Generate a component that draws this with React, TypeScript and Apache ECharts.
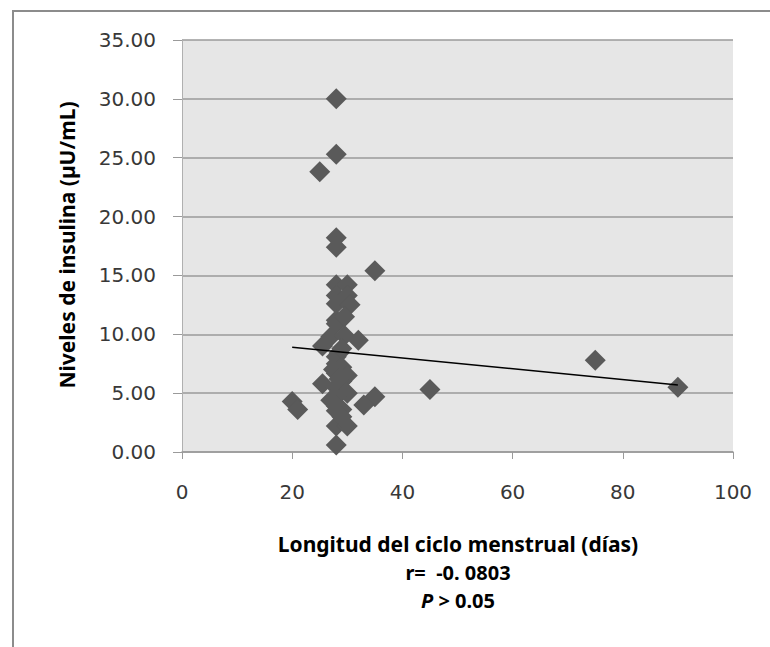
import React, { useEffect, useRef } from "react";
import * as echarts from "echarts";

// Menstrual cycle length (days)
const cycleDays: number[] = [
  28, 28, 25, 28, 28, 35, 28, 30, 28, 30, 28, 30.5, 28, 28,
  27, 29.5, 32, 25.5, 28.5, 28, 28, 29, 28, 30, 25.5, 28, 29,
  30, 28, 35, 33, 28, 29, 28, 20, 21, 28, 30, 28, 45, 75, 90,
  29, 27.5, 28.5, 29.5, 27, 29,
];
// Insulin levels (µU/mL)
const insulin: number[] = [
  30.0, 25.3, 23.8, 18.2, 17.4, 15.4, 14.2, 14.2, 13.3, 13.3, 12.6, 12.5, 11.2, 10.9,
  9.8, 9.9, 9.5, 9.0, 8.4, 8.1, 7.5, 7.2, 6.7, 6.5, 5.8, 5.5, 6.0,
  5.0, 4.7, 4.7, 4.0, 3.9, 3.6, 3.5, 4.3, 3.6, 2.2, 2.2, 0.6, 5.3, 7.8, 5.5,
  8.8, 7.0, 6.2, 11.5, 4.4, 3.0,
];
// Linear trend line endpoints
const trendX: number[] = [20, 90];
const trendY: number[] = [8.9, 5.7];

const yTicks = { min: 0, max: 35, interval: 5 };
const xTicks = { min: 0, max: 100, interval: 20 };

const xTitle = "Longitud del ciclo menstrual (días)";
const yTitle = "Niveles de insulina (µU/mL)";
const rText = "r=  -0. 0803";
const pText = "{i|P} > 0.05";

export default function App() {
  const ref = useRef<HTMLDivElement>(null);
  useEffect(() => {
    if (!ref.current) return;
    const chart = echarts.init(ref.current, undefined, { renderer: "svg" });
    const points = cycleDays.map((x, i) => [x, insulin[i]]);
    const trend = trendX.map((x, i) => [x, trendY[i]]);
    const tickFont = { fontFamily: "DejaVu Sans", fontSize: 20, color: "#383838" };
    const titleFont = "Noto Sans";
    chart.setOption({
      animation: false,
      backgroundColor: "#ffffff",
      grid: {
        left: 182,
        top: 40,
        right: 37,
        bottom: 195,
        show: true,
        backgroundColor: "#e6e6e6",
        borderWidth: 0,
      },
      xAxis: {
        type: "value",
        min: xTicks.min,
        max: xTicks.max,
        interval: xTicks.interval,
        axisLine: { show: true, onZero: false, lineStyle: { color: "#9a9a9a", width: 1.5 } },
        axisTick: { show: true, length: 7, lineStyle: { color: "#9a9a9a", width: 1 } },
        axisLabel: { ...tickFont, margin: 30 },
        splitLine: { show: false },
      },
      yAxis: {
        type: "value",
        min: yTicks.min,
        max: yTicks.max,
        interval: yTicks.interval,
        axisLine: { show: true, lineStyle: { color: "#b0b0b0", width: 1 } },
        axisTick: { show: true, length: 9, lineStyle: { color: "#9a9a9a", width: 1 } },
        axisLabel: { ...tickFont, margin: 26, formatter: (v: number) => v.toFixed(2) },
        splitLine: { show: true, lineStyle: { color: "#9a9a9a", width: 1.5 } },
      },
      series: [
        {
          type: "scatter",
          data: points,
          symbol: "diamond",
          symbolSize: 21,
          itemStyle: { color: "#5a5a5a", opacity: 1 },
          z: 2,
        },
        {
          type: "line",
          data: trend,
          symbol: "none",
          lineStyle: { color: "#000", width: 1.5 },
          z: 3,
        },
      ],
      graphic: [
        {
          type: "rect",
          shape: { x: 13, y: 11, width: 800, height: 700 },
          style: { fill: "none", stroke: "#8c8c8c", lineWidth: 2 },
          silent: true,
        },
        {
          type: "text",
          x: 67,
          y: 245,
          rotation: Math.PI / 2,
          style: {
            text: yTitle,
            font: `bold 21px "${titleFont}"`,
            fill: "#000",
            align: "center",
            verticalAlign: "middle",
          },
        },
        {
          type: "text",
          x: 458,
          y: 544,
          style: {
            text: xTitle,
            font: `bold 21px "${titleFont}"`,
            fill: "#000",
            align: "center",
            verticalAlign: "middle",
          },
        },
        {
          type: "text",
          x: 458,
          y: 572,
          style: {
            text: rText,
            font: `bold 20px "${titleFont}"`,
            fill: "#000",
            align: "center",
            verticalAlign: "middle",
          },
        },
        {
          type: "text",
          x: 458,
          y: 600,
          style: {
            text: pText,
            font: `bold 20px "${titleFont}"`,
            fill: "#000",
            align: "center",
            verticalAlign: "middle",
            rich: {
              i: { fontStyle: "italic", fontWeight: "bold", fontSize: 20, fontFamily: titleFont },
            },
          },
        },
      ],
    });
    return () => chart.dispose();
  }, []);
  return (
    <div
      ref={ref}
      style={{ position: "fixed", left: 0, top: 0, width: 770, height: 647 }}
    />
  );
}
